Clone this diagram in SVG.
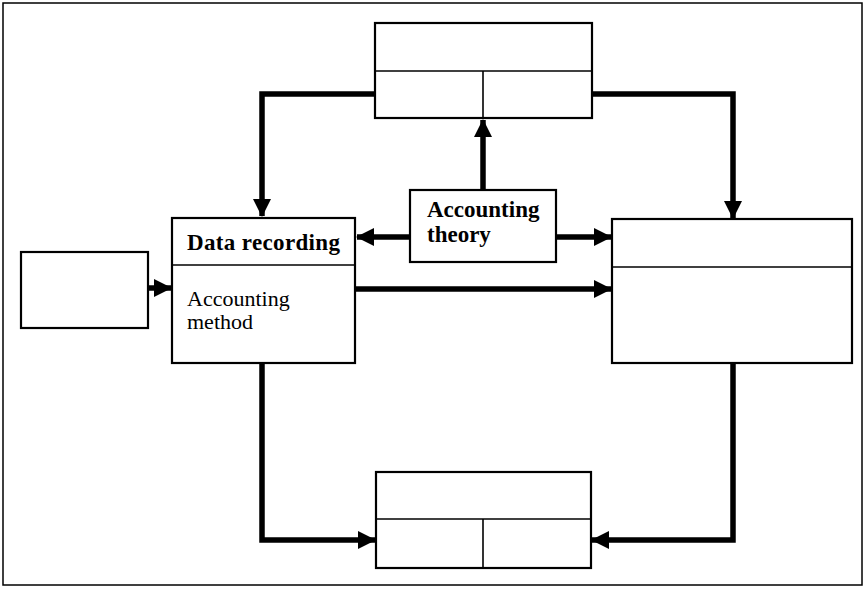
<svg xmlns="http://www.w3.org/2000/svg" width="865" height="589" viewBox="0 0 865 589">
<style>
.box{fill:#fff;stroke:#000;stroke-width:2.2}
.div{fill:none;stroke:#000;stroke-width:1.6}
.con{fill:none;stroke:#000;stroke-width:5.5;stroke-linejoin:miter}
.t{font-family:"Liberation Serif","Times New Roman",serif;font-size:22px;fill:#000}
.b{font-weight:bold;font-size:23px}
</style>
<defs>
<marker id="ah" markerUnits="userSpaceOnUse" markerWidth="18" markerHeight="18" viewBox="0 0 18 18" refX="17" refY="9" orient="auto">
<path d="M0,0 L18,9 L0,18 Z" fill="#000"/>
</marker>
</defs>
<rect x="3" y="3" width="859" height="582" fill="#fff" stroke="#000" stroke-width="1.5"/>
<g id="connectors">
<path class="con" d="M375,94 H262 V216" marker-end="url(#ah)"/>
<path class="con" d="M592,94 H733 V218" marker-end="url(#ah)"/>
<path class="con" d="M483,190 V120" marker-end="url(#ah)"/>
<path class="con" d="M410,237 H357" marker-end="url(#ah)"/>
<path class="con" d="M556,237 H611" marker-end="url(#ah)"/>
<path class="con" d="M355,289 H611" marker-end="url(#ah)"/>
<path class="con" d="M148,288 H171" marker-end="url(#ah)"/>
<path class="con" d="M262,363 V540 H375" marker-end="url(#ah)"/>
<path class="con" d="M733,363 V540 H592" marker-end="url(#ah)"/>
</g>
<g id="top-box">
<rect class="box" x="375" y="23" width="217" height="95"/>
<line class="div" x1="375" y1="71" x2="592" y2="71"/>
<line class="div" x1="483" y1="71" x2="483" y2="118"/>
</g>
<g id="data-recording">
<rect class="box" x="172" y="218" width="183" height="145"/>
<line class="div" x1="172" y1="265" x2="355" y2="265"/>
<text class="t b" x="187" y="250" letter-spacing="0.35">Data recording</text>
<text class="t" x="187" y="306">Accounting</text>
<text class="t" x="187" y="329">method</text>
</g>
<g id="accounting-theory">
<rect class="box" x="410" y="190" width="146" height="72"/>
<text class="t b" x="427" y="217">Accounting</text>
<text class="t b" x="427" y="242">theory</text>
</g>
<g id="right-box">
<rect class="box" x="612" y="219" width="240" height="144"/>
<line class="div" x1="612" y1="267" x2="852" y2="267"/>
</g>
<g id="left-box">
<rect class="box" x="21" y="252" width="127" height="76"/>
</g>
<g id="bottom-box">
<rect class="box" x="376" y="472" width="215" height="96"/>
<line class="div" x1="376" y1="519" x2="591" y2="519"/>
<line class="div" x1="483" y1="519" x2="483" y2="568"/>
</g>
</svg>
